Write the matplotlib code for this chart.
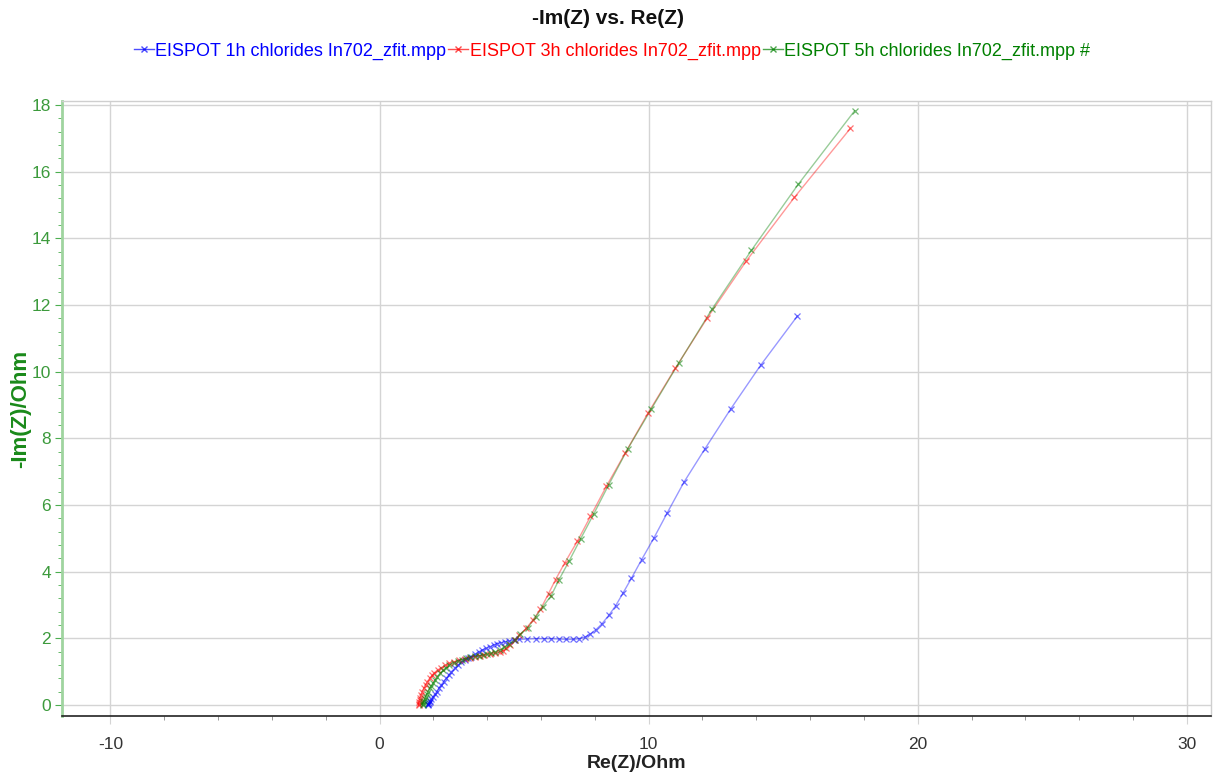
import matplotlib
matplotlib.use("Agg")
import matplotlib.pyplot as plt
from matplotlib.ticker import MultipleLocator
from matplotlib.lines import Line2D

plt.rcParams['font.family'] = ['Liberation Sans', 'DejaVu Sans']
plt.rcParams['axes.unicode_minus'] = False

labels = ["EISPOT 1h chlorides In702_zfit.mpp",
          "EISPOT 3h chlorides In702_zfit.mpp",
          "EISPOT 5h chlorides In702_zfit.mpp #"]
colors = ["#0000ff", "#ff0000", "#008000"]

re_1h = [1.80, 1.81, 1.82, 1.84, 1.86, 1.88, 1.92, 1.98, 2.05, 2.13, 2.20, 2.29, 2.38, 2.48, 2.57,
         2.67, 2.79, 2.91, 3.03, 3.16, 3.29, 3.41, 3.55, 3.68, 3.82, 3.97, 4.11, 4.25, 4.38, 4.52,
         4.67, 4.83, 5.00, 5.20, 5.49, 5.80, 6.10, 6.38, 6.67, 6.94, 7.19, 7.41, 7.62, 7.83, 8.03,
         8.26, 8.52, 8.77, 9.05, 9.36, 9.74, 10.19, 10.69, 11.31, 12.09, 13.05, 14.16, 15.53]
im_1h = [0.00, 0.02, 0.04, 0.07, 0.10, 0.13, 0.19, 0.25, 0.32, 0.40, 0.50, 0.60, 0.70, 0.80, 0.90,
         1.00, 1.10, 1.20, 1.28, 1.35, 1.40, 1.45, 1.52, 1.59, 1.65, 1.70, 1.75, 1.81, 1.84, 1.87,
         1.90, 1.92, 1.95, 1.97, 1.98, 1.99, 1.99, 1.99, 1.98, 1.97, 1.97, 1.99, 2.03, 2.13, 2.25,
         2.43, 2.69, 2.97, 3.36, 3.80, 4.36, 5.00, 5.76, 6.68, 7.68, 8.88, 10.19, 11.67]

re_3h = [1.45, 1.46, 1.47, 1.49, 1.52, 1.55, 1.59, 1.64, 1.71, 1.78, 1.86, 1.95, 2.04, 2.16, 2.29,
         2.44, 2.60, 2.78, 2.97, 3.16, 3.35, 3.53, 3.72, 3.90, 4.09, 4.28, 4.46, 4.60, 4.71, 4.86,
         5.02, 5.20, 5.45, 5.70, 5.98, 6.28, 6.54, 6.88, 7.35, 7.84, 8.43, 9.13, 9.98, 10.99, 12.18,
         13.63, 15.42, 17.50]
im_3h = [0.00, 0.04, 0.08, 0.14, 0.22, 0.30, 0.40, 0.50, 0.60, 0.70, 0.80, 0.89, 0.97, 1.05, 1.12,
         1.19, 1.25, 1.30, 1.35, 1.39, 1.42, 1.45, 1.47, 1.49, 1.52, 1.55, 1.58, 1.63, 1.70, 1.81,
         1.95, 2.10, 2.30, 2.55, 2.87, 3.34, 3.76, 4.26, 4.91, 5.66, 6.56, 7.56, 8.76, 10.10, 11.61,
         13.32, 15.23, 17.30]

re_5h = [1.61, 1.62, 1.63, 1.65, 1.68, 1.71, 1.75, 1.80, 1.86, 1.92, 1.98, 2.06, 2.15, 2.25, 2.36,
         2.48, 2.60, 2.75, 2.90, 3.06, 3.22, 3.38, 3.53, 3.68, 3.84, 4.00, 4.16, 4.31, 4.46, 4.64,
         4.83, 5.02, 5.22, 5.51, 5.80, 6.07, 6.38, 6.67, 7.04, 7.47, 7.96, 8.52, 9.23, 10.10, 11.13,
         12.35, 13.82, 15.56, 17.66]
im_5h = [0.00, 0.04, 0.08, 0.13, 0.19, 0.25, 0.32, 0.40, 0.50, 0.58, 0.65, 0.75, 0.85, 0.95, 1.04,
         1.12, 1.20, 1.27, 1.32, 1.36, 1.40, 1.43, 1.46, 1.48, 1.50, 1.53, 1.56, 1.60, 1.65, 1.73,
         1.83, 1.96, 2.12, 2.32, 2.64, 2.95, 3.28, 3.76, 4.31, 4.98, 5.73, 6.61, 7.69, 8.88, 10.27,
         11.87, 13.64, 15.62, 17.83]

series = [(re_1h, im_1h), (re_3h, im_3h), (re_5h, im_5h)]

fig = plt.figure(figsize=(12.16, 7.76), dpi=100)
ax = fig.add_axes([62/1216, 1 - 716/776, (1211-62)/1216, (716-101)/776])

for (xs, ys), c in zip(series, colors):
    ax.plot(xs, ys, color=c, alpha=0.4, lw=1.0, zorder=3)
    ax.plot(xs, ys, ls='none', marker='x', ms=4, mew=0.9, color=c, alpha=0.55, zorder=4)

ax.set_xlim(-11.8, 30.9)
ax.set_ylim(-0.33, 18.12)

ax.xaxis.set_major_locator(MultipleLocator(10))
ax.xaxis.set_minor_locator(MultipleLocator(2))
ax.yaxis.set_major_locator(MultipleLocator(2))
ax.yaxis.set_minor_locator(MultipleLocator(0.4))

ax.grid(True, which='major', color='#d4d4d4', lw=1.0, zorder=0)

for s in ['top', 'right']:
    ax.spines[s].set_color('#cfcfcf')
    ax.spines[s].set_linewidth(1.0)
ax.spines['left'].set_color('#9fd49f')
ax.spines['left'].set_linewidth(2.0)
ax.spines['bottom'].set_color('#222222')
ax.spines['bottom'].set_linewidth(1.2)

ax.tick_params(axis='x', which='major', length=6, color='#d4d4d4', labelsize=12.5,
               labelcolor='#333333', pad=9)
ax.tick_params(axis='x', which='minor', length=3, color='#888888')
ax.tick_params(axis='y', which='major', length=5, color='#4caf50', labelsize=12.5,
               labelcolor='#3c9a3c', pad=3)
ax.tick_params(axis='y', which='minor', length=3, color='#4caf50')

ax.set_xlabel("Re(Z)/Ohm", fontsize=14, fontweight='bold', color='#222222', labelpad=2)
ax.set_ylabel("-Im(Z)/Ohm", fontsize=16, fontweight='bold', color='#1a8a1a', labelpad=0)

fig.text(0.5, 1 - 18/776, "-Im(Z) vs. Re(Z)", ha='center', va='center',
         fontsize=15, fontweight='bold', color='#111111')

handles = [Line2D([0], [0], color=c, lw=1.0, marker='x', ms=4, alpha=0.7) for c in colors]
leg = fig.legend(handles, labels, loc='center', bbox_to_anchor=(612/1216, 1 - 51/776), ncol=3,
                 frameon=False, fontsize=13, handlelength=1.1, handletextpad=0.1,
                 columnspacing=0.1)
for t, c in zip(leg.get_texts(), colors):
    t.set_color(c)

fig.savefig("out.png", dpi=100)
